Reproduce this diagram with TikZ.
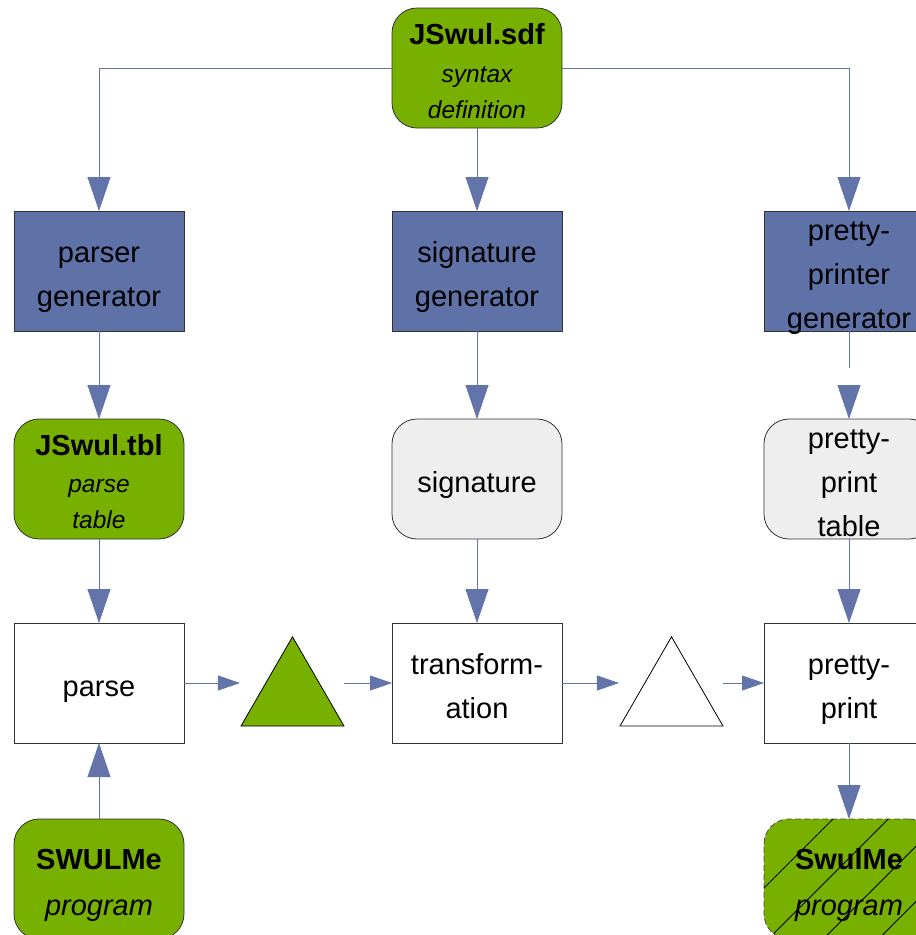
\documentclass[tikz,border=0pt]{standalone}
\usepackage{fontspec}
\setmainfont{Liberation Sans}
\usetikzlibrary{arrows.meta,shapes.geometric,patterns.meta}
\definecolor{lgreen}{RGB}{120,176,0}
\definecolor{dblue}{RGB}{94,114,168}
\definecolor{lblue}{RGB}{98,116,170}
\definecolor{lgray}{RGB}{238,238,238}
% centred lines with fixed strut: baseline midpoint 13pt below node centre;
% the result is smashed so that text may overflow a fixed-size box
\newcommand{\tstrut}{\rule[-6.5pt]{0pt}{39pt}}
\newcommand{\mylines}[1]{%
  \setbox0=\vbox{\baselineskip=44pt\lineskiplimit=-100pt\lineskip=0pt\halign{\hfil\tstrut##\hfil\cr#1\crcr}}%
  \dimen0=\ht0 \advance\dimen0 by -\dp0 \divide\dimen0 by 2
  \setbox0=\hbox{\lower\dimen0\box0}\ht0=0pt \dp0=0pt \box0}
\newcommand{\smit}[1]{{\fontsize{24.5}{30}\selectfont\itshape #1}}
\begin{document}
\begin{tikzpicture}[x=1pt,y=-1pt,
 box/.style={rectangle, minimum width=170pt, minimum height=120pt, inner sep=0pt, outer sep=0pt, draw=black!80, line width=0.8pt, font=\fontsize{29}{44}\selectfont},
 gen/.style={box, fill=dblue},
 art/.style={box, rounded corners=25pt, fill=lgreen},
 gart/.style={box, rounded corners=25pt, fill=lgray},
 wbox/.style={box, fill=white},
 conn/.style={draw=lblue, line width=0.8pt},
 varr/.style={conn, -{Triangle[length=34pt,width=23pt]}},
 harr/.style={conn, -{Triangle[length=22pt,width=15pt]}},
 tri/.style={regular polygon, regular polygon sides=3, minimum size=119pt, inner sep=0pt, outer sep=0pt, draw=black, line width=0.8pt},
 hatch/.style={postaction={solid, draw=none, pattern={Lines[angle=45,distance=39pt,line width=0.9pt]}, pattern color=black}}
]
\useasboundingbox (0,0) rectangle (916,935);
% nodes
\node[art] (sdf) at (477,68) {\mylines{\textbf{JSwul.sdf}\cr\noalign{\vskip-6pt}\smit{syntax}\cr\noalign{\vskip-8pt}\smit{definition}}};
\node[gen] (pg) at (99,271) {\mylines{parser\cr generator}};
\node[gen] (sg) at (477,271) {\mylines{signature\cr generator}};
\node[gen] (ppg) at (849,271) {\mylines{pretty-\cr printer\cr generator}};
\node[art] (tbl) at (99,479) {\mylines{\textbf{JSwul.tbl}\cr\noalign{\vskip-7pt}\smit{parse}\cr\noalign{\vskip-8pt}\smit{table}}};
\node[gart] (sig) at (477,479) {\mylines{signature}};
\node[gart] (ppt) at (849,479) {\mylines{pretty-\cr print\cr table}};
\node[wbox] (parse) at (99,683) {\mylines{parse}};
\node[wbox] (trans) at (477,683) {\mylines{transform-\cr ation}};
\node[wbox] (pp) at (849,683) {\mylines{pretty-\cr print}};
\node[art] (sw1) at (99,879) {\mylines{\textbf{SWULMe}\cr\noalign{\vskip2pt}\itshape program}};
\node[art, dash pattern=on 6pt off 3pt, draw=black!70, hatch] (sw2) at (849,879) {\mylines{\textbf{SwulMe}\cr\noalign{\vskip2pt}\itshape program}};
\node[tri, fill=lgreen] (t1) at (292.5,696.3) {};
\node[tri, fill=white] (t2) at (671.5,696.3) {};
\coordinate (gap) at (849,385);
% connectors
\draw[varr] (sdf.west) -| (pg.north);
\draw[varr] (sdf.east) -| (ppg.north);
\draw[varr] (sdf.south) -- (sg.north);
\draw[varr] (pg.south) -- (tbl.north);
\draw[varr] (sg.south) -- (sig.north);
\draw[conn] (ppg.south) -- ++(0,37);
\draw[varr] (gap) -- (ppt.north);
\draw[varr] (tbl.south) -- (parse.north);
\draw[varr] (sig.south) -- (trans.north);
\draw[varr] (ppt.south) -- (pp.north);
\draw[varr] (sw1.north) -- (parse.south);
\draw[varr] (pp.south) -- (sw2.north);
\draw[harr] (parse.east) -- ([xshift=-1pt]t1.corner 2 |- parse.east);
\draw[harr] (t1.corner 3 |- trans.west) -- (trans.west);
\draw[harr] (trans.east) -- ([xshift=-1pt]t2.corner 2 |- trans.east);
\draw[harr] (t2.corner 3 |- pp.west) -- (pp.west);
\end{tikzpicture}
\end{document}
